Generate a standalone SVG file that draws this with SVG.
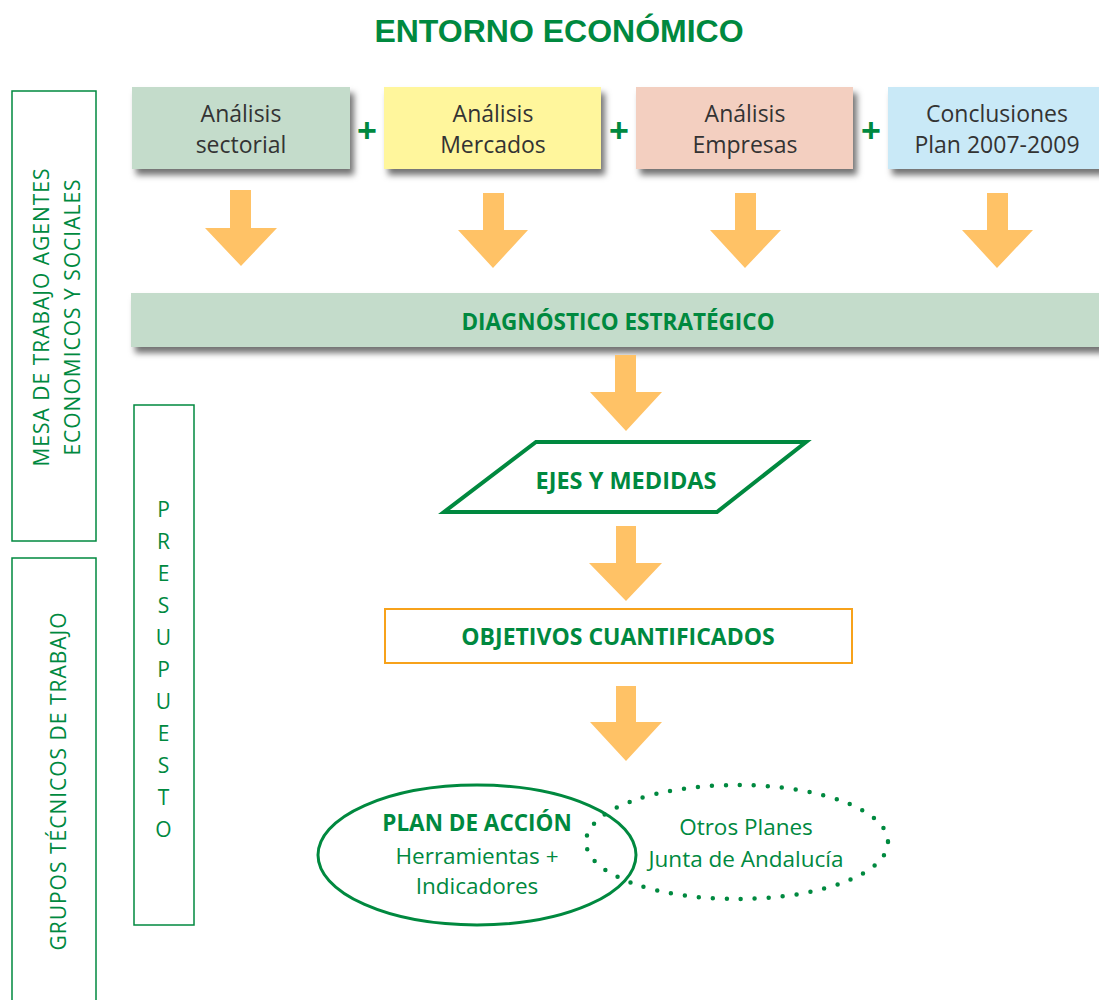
<svg xmlns="http://www.w3.org/2000/svg" width="1099" height="1000" viewBox="0 0 1099 1000">
<defs>
<style>
.t{font-family:"Open Sans","Noto Sans","Liberation Sans",sans-serif;}
.box{font-family:"Open Sans","Noto Sans",sans-serif;font-size:23px;fill:#333;text-anchor:middle;}
.g{fill:#00893f;}
.b{font-weight:bold;}
.plus{font-family:"Liberation Sans",sans-serif;font-size:34px;font-weight:bold;fill:#00893f;text-anchor:middle;}
.arrow{fill:#ffc266;}
.frame{fill:none;stroke:#00893f;stroke-width:1.5;}
.vt{font-family:"Open Sans","Noto Sans",sans-serif;font-size:21px;fill:#00893f;text-anchor:middle;letter-spacing:1px;}
</style>
<filter id="sh" x="-10%" y="-30%" width="120%" height="170%">
<feGaussianBlur in="SourceAlpha" stdDeviation="3"/>
<feOffset dx="4" dy="6" result="b"/>
<feFlood flood-color="#000" flood-opacity="0.55"/>
<feComposite in2="b" operator="in"/>
<feMerge><feMergeNode/><feMergeNode in="SourceGraphic"/></feMerge>
</filter>
</defs>
<rect width="1099" height="1000" fill="#fff"/>
<text x="559" y="42" class="b g" font-size="32" text-anchor="middle" style="font-family:'Liberation Sans',sans-serif">ENTORNO ECONÓMICO</text>

<g id="mesa">
<rect x="12" y="91" width="84" height="450" class="frame"/>
<text class="vt" transform="translate(49,317) rotate(-90)">MESA DE TRABAJO AGENTES</text>
<text class="vt" transform="translate(80,317) rotate(-90)">ECONOMICOS Y SOCIALES</text>
</g>
<g id="grupos">
<rect x="12" y="558" width="84" height="460" class="frame"/>
<text class="vt" transform="translate(66,781) rotate(-90)">GRUPOS TÉCNICOS DE TRABAJO</text>
</g>
<g id="presupuesto">
<rect x="134" y="405" width="60" height="520" class="frame"/>
<g class="vt" style="font-size:21px">
<text x="164" y="517">P</text><text x="164" y="549">R</text><text x="164" y="581">E</text><text x="164" y="613">S</text><text x="164" y="645">U</text><text x="164" y="677">P</text><text x="164" y="709">U</text><text x="164" y="741">E</text><text x="164" y="773">S</text><text x="164" y="805">T</text><text x="164" y="837">O</text>
</g>
</g>

<g id="sectorial">
<rect x="132" y="87" width="218" height="82" fill="#c4dccb" filter="url(#sh)"/>
<text class="box" x="241" y="122">Análisis</text><text class="box" x="241" y="153">sectorial</text>
</g>
<g id="mercados">
<rect x="384" y="87" width="217" height="82" fill="#fff69c" filter="url(#sh)"/>
<text class="box" x="493" y="122">Análisis</text><text class="box" x="493" y="153">Mercados</text>
</g>
<g id="empresas">
<rect x="636" y="87" width="217" height="82" fill="#f3cfc0" filter="url(#sh)"/>
<text class="box" x="745" y="122">Análisis</text><text class="box" x="745" y="153">Empresas</text>
</g>
<g id="conclusiones">
<rect x="888" y="87" width="220" height="82" fill="#c9e9f7" filter="url(#sh)"/>
<text class="box" x="997" y="122">Conclusiones</text><text class="box" x="997" y="153">Plan 2007-2009</text>
</g>
<g id="plus">
<text class="plus" x="367" y="142">+</text>
<text class="plus" x="619" y="142">+</text>
<text class="plus" x="871" y="142">+</text>
</g>

<g id="diagnostico">
<rect x="131" y="293" width="980" height="54" fill="#c4dccb" filter="url(#sh)"/>
<text class="t b g" x="618" y="330" font-size="22.5" text-anchor="middle">DIAGNÓSTICO ESTRATÉGICO</text>
</g>

<g id="ejes">
<polygon points="536,442 806,442 717,512 444,512" fill="#fff" stroke="#00893f" stroke-width="4"/>
<text class="t b g" x="626" y="489" font-size="23.5" text-anchor="middle">EJES Y MEDIDAS</text>
</g>

<g id="objetivos">
<rect x="385" y="609" width="467" height="54" fill="#fff" stroke="#f7a21b" stroke-width="2"/>
<text class="t b g" x="618" y="645" font-size="23" text-anchor="middle">OBJETIVOS CUANTIFICADOS</text>
</g>

<g id="plan">
<ellipse cx="477" cy="855" rx="159" ry="70" fill="none" stroke="#00893f" stroke-width="3"/>
<text class="t b g" x="477" y="831" font-size="22.5" text-anchor="middle">PLAN DE ACCIÓN</text>
<text class="t g" x="477" y="864" font-size="22.5" text-anchor="middle">Herramientas +</text>
<text class="t g" x="477" y="894" font-size="22.5" text-anchor="middle">Indicadores</text>
</g>
<g id="otros">
<ellipse cx="737" cy="842" rx="151" ry="57" fill="none" stroke="#00893f" stroke-width="4.5" stroke-linecap="round" stroke-dasharray="0 14"/>
<text class="t g" x="746" y="835" font-size="22.5" text-anchor="middle">Otros Planes</text>
<text class="t g" x="746" y="867" font-size="22.5" text-anchor="middle">Junta de Andalucía</text>
</g>

<g id="connectors">
<polygon class="arrow" points="230,190 251,190 251,228 277,228 241,266 205,228 230,228"/>
<polygon class="arrow" points="483,193 504,193 504,230 528,230 493,268 458,230 483,230"/>
<polygon class="arrow" points="735,193 756,193 756,230 781,230 745,268 710,230 735,230"/>
<polygon class="arrow" points="987,193 1008,193 1008,230 1033,230 997,268 962,230 987,230"/>
<polygon class="arrow" points="615,355 636,355 636,392 662,392 626,431 590,392 615,392"/>
<polygon class="arrow" points="616,526 636,526 636,563 662,563 626,601 589,563 616,563"/>
<polygon class="arrow" points="616,686 636,686 636,722 662,722 626,761 590,722 616,722"/>
</g>
</svg>
